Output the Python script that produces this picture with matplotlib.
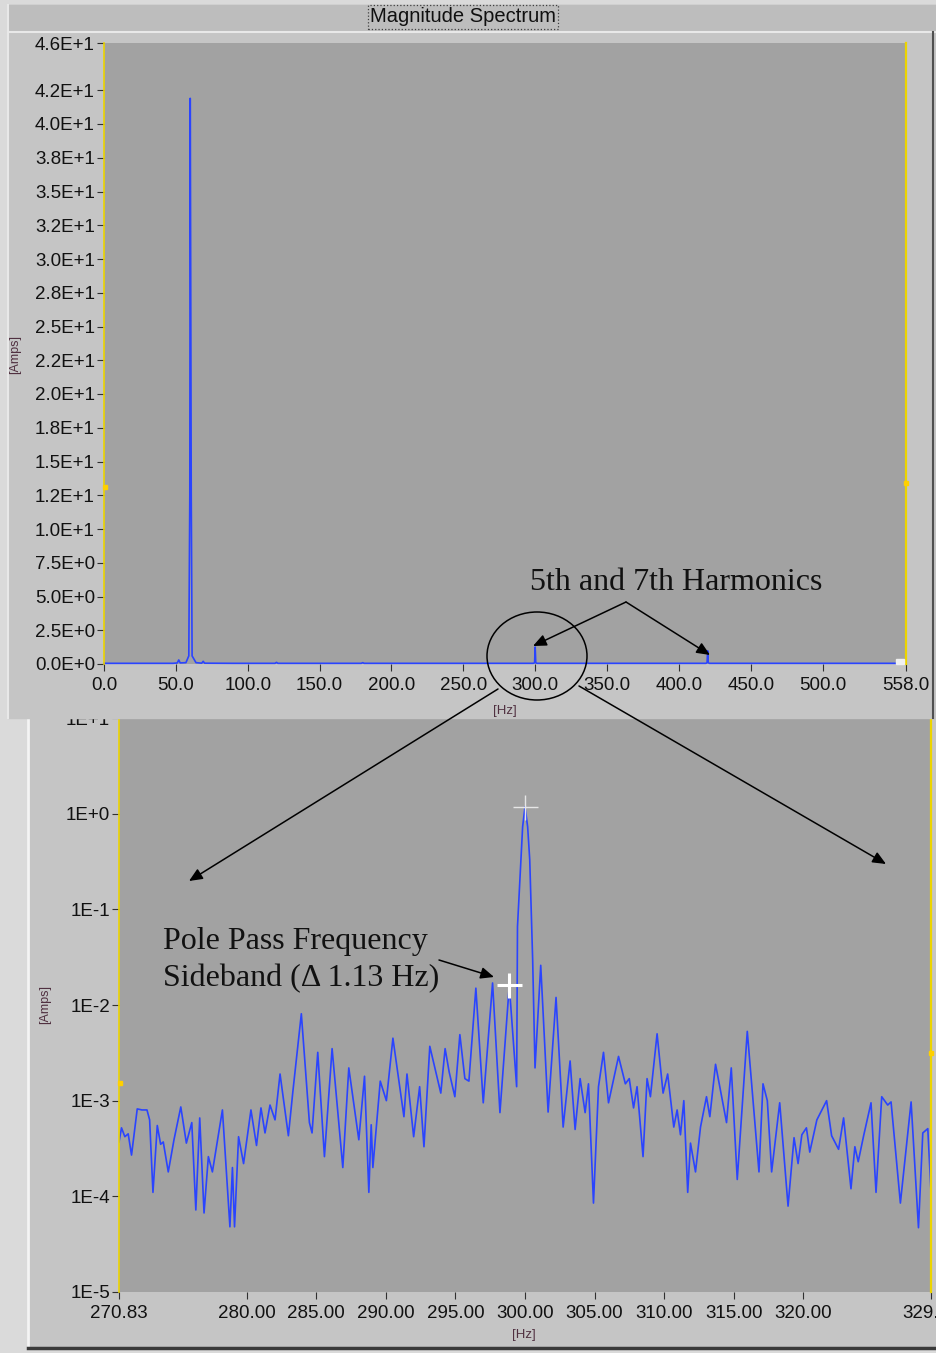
import numpy as np
import matplotlib.pyplot as plt
from matplotlib.patches import Ellipse, Rectangle

plt.rcParams['font.family'] = ['Liberation Sans', 'DejaVu Sans']

W, H = 936, 1353

# ---- top panel: full magnitude spectrum (linear amps)
top_freq = [0.0, 30.0, 48.0, 51.0, 52.0, 53.0, 57.0, 59.0, 59.7, 60.0, 60.3, 60.7, 61.3,
            64.0, 68.0, 69.0, 70.0, 90.0, 119.0, 120.0, 121.0, 179.0, 180.0, 181.0, 240.0,
            298.8, 299.6, 300.0, 300.4, 301.2, 360.0, 418.8, 419.6, 420.0, 420.4, 421.2,
            480.0, 540.0, 558.0]
top_amp = [0.05, 0.05, 0.05, 0.08, 0.3, 0.08, 0.1, 0.6, 12.5, 41.9, 30.0, 12.5, 0.6,
           0.1, 0.06, 0.2, 0.06, 0.05, 0.05, 0.12, 0.05, 0.05, 0.1, 0.05, 0.05,
           0.05, 0.1, 1.26, 0.1, 0.05, 0.05, 0.05, 0.1, 0.98, 0.1, 0.05,
           0.05, 0.05, 0.05]
top_yticks = [0, 2.5, 5, 7.5, 10, 12.5, 15, 17.5, 20, 22.5, 25, 27.5, 30, 32.5, 35,
              37.5, 40, 42.5, 46]
top_ylabels = ['0.0E+0', '2.5E+0', '5.0E+0', '7.5E+0', '1.0E+1', '1.2E+1', '1.5E+1',
               '1.8E+1', '2.0E+1', '2.2E+1', '2.5E+1', '2.8E+1', '3.0E+1', '3.2E+1',
               '3.5E+1', '3.8E+1', '4.0E+1', '4.2E+1', '4.6E+1']
top_xticks = [0, 50, 100, 150, 200, 250, 300, 350, 400, 450, 500, 558]
top_xlabels = ['0.0', '50.0', '100.0', '150.0', '200.0', '250.0', '300.0', '350.0',
               '400.0', '450.0', '500.0', '558.0']

# ---- bottom panel: zoom around the 5th harmonic (log amps)
zoom_freq = [270.83, 271.01, 271.25, 271.49, 271.73, 272.14, 272.48, 272.84, 273.03, 273.27,
             273.58, 273.82, 274.01, 274.37, 274.78, 275.27, 275.67, 276.06, 276.35, 276.63,
             276.94, 277.25, 277.54, 278.26, 278.80, 278.98, 279.13, 279.42, 279.78, 280.31,
             280.71, 281.03, 281.32, 281.68, 282.04, 282.40, 283.00, 283.31, 283.93, 284.51,
             284.70, 285.11, 285.59, 286.14, 286.91, 287.34, 288.06, 288.47, 288.78, 288.95,
             289.07, 289.60, 290.04, 290.51, 291.30, 291.52, 292.00, 292.43, 292.74, 293.16,
             293.95, 294.26, 294.55, 294.96, 295.32, 295.68, 295.97, 296.47, 297.00, 297.67,
             298.20, 298.87, 299.40, 299.46, 299.71, 299.83, 300.00, 300.19, 300.34, 300.55,
             300.72, 301.13, 301.66, 302.23, 302.74, 303.24, 303.60, 303.96, 304.32, 304.56,
             304.92, 305.28, 305.64, 306.00, 306.72, 307.21, 307.49, 307.80, 308.05, 308.48,
             308.77, 309.01, 309.49, 309.92, 310.25, 310.69, 310.93, 311.17, 311.41, 311.69,
             311.89, 312.25, 312.61, 313.04, 313.28, 313.69, 314.48, 314.82, 315.25, 315.97,
             316.81, 317.10, 317.41, 317.72, 318.30, 318.90, 319.33, 319.62, 319.89, 320.22,
             320.46, 320.97, 321.67, 322.03, 322.53, 322.89, 323.42, 323.70, 323.94, 324.33,
             324.86, 325.22, 325.63, 326.06, 326.30, 326.97, 327.74, 328.27, 328.58, 328.94,
             329.17]
zoom_amp = [3.7e-4, 5.2e-4, 4.2e-4, 4.5e-4, 2.7e-4, 8.2e-4, 8.0e-4, 8.0e-4, 6.3e-4, 1.1e-4,
            5.5e-4, 3.5e-4, 3.7e-4, 1.8e-4, 3.9e-4, 8.6e-4, 3.6e-4, 5.9e-4, 7.2e-5, 6.6e-4,
            6.7e-5, 2.6e-4, 1.8e-4, 8.0e-4, 4.8e-5, 2.0e-4, 4.8e-5, 4.2e-4, 2.2e-4, 8.0e-4,
            3.4e-4, 8.4e-4, 4.6e-4, 9.0e-4, 6.3e-4, 1.9e-3, 4.3e-4, 1.2e-3, 8.1e-3, 5.9e-4,
            4.6e-4, 3.2e-3, 2.6e-4, 3.5e-3, 2.0e-4, 2.2e-3, 3.9e-4, 1.8e-3, 1.1e-4, 5.6e-4,
            2.0e-4, 1.6e-3, 1.0e-3, 4.5e-3, 6.8e-4, 1.9e-3, 4.2e-4, 1.4e-3, 3.3e-4, 3.7e-3,
            1.2e-3, 3.5e-3, 2.0e-3, 1.1e-3, 4.9e-3, 1.7e-3, 1.6e-3, 1.5e-2, 9.5e-4, 1.7e-2,
            7.5e-4, 1.6e-2, 1.4e-3, 6.6e-2, 3.3e-1, 7.3e-1, 1.18, 7.3e-1, 3.3e-1, 3.0e-2,
            2.2e-3, 2.6e-2, 7.6e-4, 1.2e-2, 5.3e-4, 2.6e-3, 5.0e-4, 1.7e-3, 7.5e-4, 1.5e-3,
            8.5e-5, 1.4e-3, 3.2e-3, 9.5e-4, 2.9e-3, 1.5e-3, 1.7e-3, 8.4e-4, 1.4e-3, 2.6e-4,
            1.7e-3, 1.1e-3, 5.0e-3, 1.2e-3, 1.9e-3, 5.3e-4, 8.0e-4, 4.4e-4, 1.0e-3, 1.1e-4,
            3.6e-4, 1.8e-4, 5.3e-4, 1.1e-3, 6.8e-4, 2.4e-3, 5.9e-4, 2.2e-3, 1.5e-4, 5.3e-3,
            1.8e-4, 1.5e-3, 1.0e-3, 1.8e-4, 9.5e-4, 7.9e-5, 4.1e-4, 2.2e-4, 4.4e-4, 5.2e-4,
            2.9e-4, 6.3e-4, 1.0e-3, 4.3e-4, 3.1e-4, 6.6e-4, 1.2e-4, 3.3e-4, 2.3e-4, 4.3e-4,
            9.5e-4, 1.1e-4, 1.1e-3, 9.0e-4, 9.7e-4, 8.5e-5, 9.7e-4, 4.7e-5, 4.6e-4, 5.1e-4,
            1.1e-4]
zoom_yticks = [1e-5, 1e-4, 1e-3, 1e-2, 1e-1, 1e0, 1e1]
zoom_ylabels = ['1E-5', '1E-4', '1E-3', '1E-2', '1E-1', '1E+0', '1E+1']
zoom_xticks = [270.83, 280, 285, 290, 295, 300, 305, 310, 315, 320, 329.17]
zoom_xlabels = ['270.83', '280.00', '285.00', '290.00', '295.00', '300.00', '305.00',
                '310.00', '315.00', '320.00', '329.17']

# cursors: 5th harmonic peak and pole pass sideband
cursor_freq = [300.00, 298.87]
cursor_amp = [1.18, 0.0163]

blue = '#2a44ff'
yellow = '#ecd400'
plot_bg = '#a2a2a2'
panel_bg = '#c5c5c5'


def px_rect(l, t, r, b):
    return [l / W, 1 - b / H, (r - l) / W, (b - t) / H]


fig = plt.figure(figsize=(W / 100, H / 100), dpi=100, facecolor='#dadada')

# background frames
ax_bg = fig.add_axes([0, 0, 1, 1], zorder=-1)
ax_bg.set_xlim(0, W)
ax_bg.set_ylim(H, 0)
ax_bg.axis('off')
ax_bg.add_patch(Rectangle((28, 718), W - 28, 630, color=panel_bg))
ax_bg.plot([28, 28], [718, 1348], color='#f4f4f4', lw=2)
ax_bg.plot([28, W], [1348, 1348], color='#3a3a3a', lw=2.5)

# top frame drawn above bottom axes so the "1E+1" label gets cut
ax_cover = fig.add_axes([0, 0, 1, 1], zorder=0.5)
ax_cover.set_xlim(0, W)
ax_cover.set_ylim(H, 0)
ax_cover.axis('off')
ax_cover.add_patch(Rectangle((8, 5), W - 8, 713, color=panel_bg))
ax_cover.add_patch(Rectangle((8, 5), W - 8, 26, color='#bdbdbd'))
ax_cover.plot([8, W], [31.5, 31.5], color='#e8e8e8', lw=1.5)
ax_cover.plot([8, 8], [5, 718], color='#e8e8e8', lw=1.5)
ax_cover.plot([933, 933], [32, 718], color='#505050', lw=1.5)
ax_cover.text(463, 17, 'Magnitude Spectrum', ha='center', va='center', fontsize=14.5,
              color='#101010',
              bbox=dict(boxstyle='square,pad=0.12', fc='none', ec='#404040', ls=':', lw=0.9))


def style(ax):
    ax.set_facecolor(plot_bg)
    ax.spines['top'].set_visible(False)
    ax.spines['bottom'].set_visible(False)
    ax.spines['left'].set_color(yellow)
    ax.spines['right'].set_color(yellow)
    ax.spines['left'].set_linewidth(1.2)
    ax.spines['right'].set_linewidth(1.6)
    ax.tick_params(axis='both', which='major', direction='out', length=5, width=0.8,
                   color='#303030', labelsize=13.5, labelcolor='#111111')
    ax.tick_params(axis='y', pad=1.5)
    ax.tick_params(axis='x', pad=4)
    ax.minorticks_off()


# ---- top axes
ax1 = fig.add_axes(px_rect(104, 43, 906, 664), zorder=1)
style(ax1)
ax1.plot(top_freq, top_amp, color=blue, lw=1.2, clip_on=False)
ax1.set_xlim(0, 558)
ax1.set_ylim(0, 46)
ax1.set_yticks(top_yticks, top_ylabels)
ax1.set_xticks(top_xticks, top_xlabels)

# ---- bottom axes
ax2 = fig.add_axes(px_rect(119, 718, 931, 1292), zorder=0)
style(ax2)
ax2.plot(zoom_freq, zoom_amp, color=blue, lw=1.2, solid_joinstyle='round')
ax2.plot(cursor_freq[:1], cursor_amp[:1], marker='+', ms=18, mew=1.0, color='#e6e6e6')
ax2.plot(cursor_freq[1:], cursor_amp[1:], marker='+', ms=18, mew=2.2, color='white')
ax2.set_yscale('log')
ax2.set_xlim(270.83, 329.17)
ax2.set_ylim(1e-5, 1e1)
ax2.set_yticks(zoom_yticks, zoom_ylabels)
ax2.set_xticks(zoom_xticks, zoom_xlabels)
ax2.minorticks_off()

# ---- overlay: axis names, cursor dots, annotations
ov = fig.add_axes([0, 0, 1, 1], zorder=10)
ov.set_xlim(0, W)
ov.set_ylim(H, 0)
ov.axis('off')
ov.patch.set_alpha(0)

ov.text(15, 355, '[Amps]', rotation=90, ha='center', va='center', fontsize=9, color='#503040')
ov.text(505, 711, '[Hz]', ha='center', va='center', fontsize=9.5, color='#503040')
ov.text(45, 1004, '[Amps]', rotation=90, ha='center', va='center', fontsize=9, color='#503040')
ov.text(524, 1335, '[Hz]', ha='center', va='center', fontsize=9.5, color='#503040')

for cx, cy in [(105, 487), (906, 483), (120, 1083), (931, 1053)]:
    ov.add_patch(Rectangle((cx - 2, cy - 2), 4, 4, color='#ffd000'))
ov.add_patch(Rectangle((896, 659), 8, 5, color='#f0f0f0'))

serif = ['Liberation Serif', 'DejaVu Serif']
ov.text(530, 582, '5th and 7th Harmonics', ha='left', va='center', fontsize=23,
        family=serif, color='#111111')
ov.text(163, 941, 'Pole Pass Frequency', ha='left', va='center', fontsize=23,
        family=serif, color='#111111')
ov.text(163, 979, 'Sideband (\u0394 1.13 Hz)', ha='left', va='center', fontsize=23,
        family=serif, color='#111111')

arrow = dict(arrowstyle='-|>,head_length=0.8,head_width=0.35', color='black', lw=1.1,
             shrinkA=0, shrinkB=0)
ov.annotate('', xy=(533, 646), xytext=(626, 602), arrowprops=arrow)
ov.annotate('', xy=(710, 655), xytext=(626, 602), arrowprops=arrow)
ov.annotate('', xy=(189, 881), xytext=(498, 689), arrowprops=arrow)
ov.annotate('', xy=(886, 864), xytext=(579, 686), arrowprops=arrow)
ov.annotate('', xy=(494, 977), xytext=(439, 960), arrowprops=arrow)
ov.add_patch(Ellipse((537, 656), 100, 88, fill=False, ec='black', lw=1.1))

fig.savefig('out.png', dpi=100, facecolor=fig.get_facecolor())
